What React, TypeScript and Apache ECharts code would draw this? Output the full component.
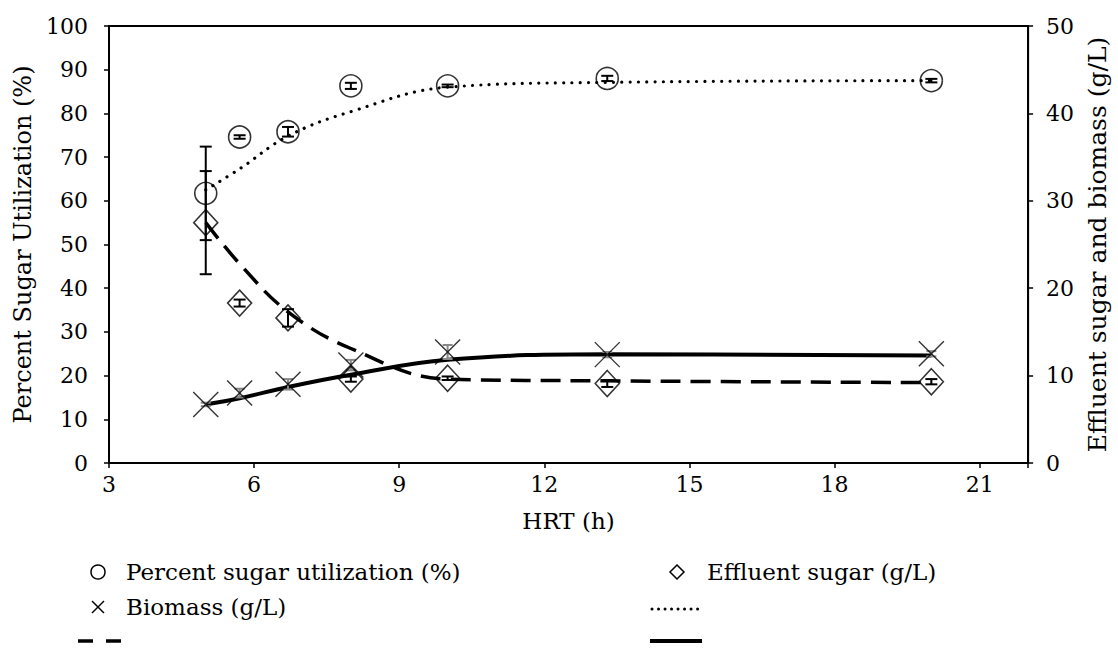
import React, { useEffect, useRef } from "react";
import * as echarts from "echarts";

// HRT (h)
const hrt = [5, 5.7, 6.7, 8, 10, 13.3, 20];
// Percent sugar utilization (%) – left axis
const sugarUtil = [61.7, 74.6, 75.8, 86.3, 86.3, 88.0, 87.5];
const sugarUtilErr = [10.7, 0.4, 1.1, 0.7, 0.3, 0.6, 0.4];
// Effluent sugar (g/L) – right axis
const effluentSugar = [27.5, 18.3, 16.6, 9.6, 9.7, 9.1, 9.3];
const effluentErr = [5.9, 0.4, 1.0, 0.3, 0.2, 0.4, 0.3];
// Biomass (g/L) – right axis
const biomass = [6.7, 8.0, 9.0, 11.2, 12.7, 12.4, 12.5];
const biomassErr = [0.2, 0.5, 0.6, 0.6, 0.8, 0.3, 0.3];
// Model fits
const fitUtil = [62.5, 67.3, 74.8, 80.4, 86.0, 87.1, 87.5];
const fitEffluent = [27.5, 22.8, 17.3, 13.1, 9.6, 9.4, 9.2];
const fitBiomass = [6.7, 7.4, 8.7, 10.1, 11.8, 12.45, 12.3];

const xTicks = { min: 3, max: 22, interval: 3 };
const leftTicks = { min: 0, max: 100, interval: 10 };
const rightTicks = { min: 0, max: 50, interval: 10 };

const legendLabels = [
  "Percent sugar utilization (%)",
  "Effluent sugar (g/L)",
  "Biomass (g/L)",
];

const FONT = "DejaVu Serif";

function pairs(xs: number[], ys: number[]) {
  return xs.map((x, i) => [x, ys[i]]);
}

function errData(xs: number[], ys: number[], es: number[]) {
  return xs.map((x, i) => [x, ys[i] - es[i], ys[i] + es[i]]);
}

function errRender(color: string, capW: number, lw: number) {
  return (params: any, api: any) => {
    const x = api.value(0);
    const lo = api.coord([x, api.value(1)]);
    const hi = api.coord([x, api.value(2)]);
    const c = capW / 2;
    const st = { stroke: color, lineWidth: lw };
    return {
      type: "group",
      children: [
        { type: "line", shape: { x1: lo[0], y1: lo[1], x2: hi[0], y2: hi[1] }, style: st },
        { type: "line", shape: { x1: lo[0] - c, y1: lo[1], x2: lo[0] + c, y2: lo[1] }, style: st },
        { type: "line", shape: { x1: hi[0] - c, y1: hi[1], x2: hi[0] + c, y2: hi[1] }, style: st },
      ],
    };
  };
}

const X_PATH = "path://M0,0L10,10M10,0L0,10";

export default function App() {
  const ref = useRef<HTMLDivElement>(null);
  useEffect(() => {
    document.body.style.margin = "0";
    if (!ref.current) return;
    const chart = echarts.init(ref.current, undefined, { renderer: "svg" });
    const tickText = { color: "#000", fontFamily: FONT, fontSize: 22 };
    const titleText = { color: "#000", fontFamily: FONT, fontSize: 23 };
    const legendText = (text: string, x: number, y: number) => ({
      type: "text",
      style: { text, x, y, fill: "#000", fontFamily: FONT, fontSize: 23, verticalAlign: "middle" },
    });
    const r1 = 572;
    const r2 = 607;
    const r3 = 641;
    const option: any = {
      animation: false,
      backgroundColor: "#fff",
      grid: {
        left: 109,
        top: 26,
        width: 923,
        height: 437,
        show: true,
        borderColor: "#000",
        borderWidth: 2,
        backgroundColor: "transparent",
      },
      xAxis: {
        type: "value",
        ...xTicks,
        name: "HRT (h)",
        nameLocation: "middle",
        nameGap: 46,
        nameTextStyle: { ...titleText },
        axisLine: { show: true, lineStyle: { color: "#000", width: 2 } },
        axisTick: { show: true, inside: false, length: 5, lineStyle: { color: "#000", width: 1.5 } },
        axisLabel: {
          ...tickText,
          margin: 10,
          formatter: (v: number) => (v % 3 === 0 ? String(v) : ""),
        },
        splitLine: { show: false },
      },
      yAxis: [
        {
          type: "value",
          ...leftTicks,
          position: "left",
          name: "Percent Sugar Utilization (%)",
          nameLocation: "middle",
          nameGap: 65,
          nameTextStyle: { ...titleText, fontSize: 24 },
          axisLine: { show: true, lineStyle: { color: "#000", width: 2 } },
          axisTick: { show: true, inside: false, length: 5, lineStyle: { color: "#000", width: 1.5 } },
          axisLabel: { ...tickText, margin: 21 },
          splitLine: { show: false },
        },
        {
          type: "value",
          ...rightTicks,
          position: "right",
          name: "Effluent sugar and biomass (g/L)",
          nameLocation: "middle",
          nameGap: 53,
          nameRotate: 90,
          nameTextStyle: { ...titleText, fontSize: 25 },
          axisLine: { show: true, lineStyle: { color: "#000", width: 2 } },
          axisTick: { show: true, inside: false, length: 5, lineStyle: { color: "#000", width: 1.5 } },
          axisLabel: { ...tickText, margin: 18 },
          splitLine: { show: false },
        },
      ],
      series: [
        {
          type: "line",
          name: "fitUtil",
          yAxisIndex: 0,
          data: pairs(hrt, fitUtil),
          smooth: 0.4,
          symbol: "none",
          lineStyle: { color: "#000", width: 3.2, type: [0.01, 8.3], cap: "round" },
          z: 2,
        },
        {
          type: "line",
          name: "fitEffluent",
          yAxisIndex: 1,
          data: pairs(hrt, fitEffluent),
          smooth: 0.4,
          symbol: "none",
          lineStyle: { color: "#000", width: 3.5, type: [20, 10] },
          z: 2,
        },
        {
          type: "line",
          name: "fitBiomass",
          yAxisIndex: 1,
          data: pairs(hrt, fitBiomass),
          smooth: 0.4,
          symbol: "none",
          lineStyle: { color: "#000", width: 4 },
          z: 2,
        },
        {
          type: "custom",
          yAxisIndex: 1,
          data: errData(hrt, biomass, biomassErr),
          renderItem: errRender("#888", 10, 2),
          z: 3,
        },
        {
          type: "custom",
          yAxisIndex: 0,
          data: errData(hrt, sugarUtil, sugarUtilErr),
          renderItem: errRender("#000", 12, 2),
          z: 3,
        },
        {
          type: "custom",
          yAxisIndex: 1,
          data: errData(hrt, effluentSugar, effluentErr),
          renderItem: errRender("#000", 12, 2),
          z: 3,
        },
        {
          type: "scatter",
          name: legendLabels[0],
          yAxisIndex: 0,
          data: pairs(hrt, sugarUtil),
          symbol: "circle",
          symbolSize: 22,
          itemStyle: { color: "transparent", borderColor: "#000", borderWidth: 1.6 },
          z: 4,
        },
        {
          type: "scatter",
          name: legendLabels[1],
          yAxisIndex: 1,
          data: pairs(hrt, effluentSugar),
          symbol: "diamond",
          symbolSize: [24, 26],
          itemStyle: { color: "transparent", borderColor: "#000", borderWidth: 1.6 },
          z: 4,
        },
        {
          type: "scatter",
          name: legendLabels[2],
          yAxisIndex: 1,
          data: pairs(hrt, biomass),
          symbol: X_PATH,
          symbolSize: 25,
          itemStyle: { color: "transparent", borderColor: "#000", borderWidth: 1.4 },
          z: 4,
        },
      ],
      graphic: [
        // Row 1
        { type: "circle", shape: { cx: 98, cy: r1, r: 7 }, style: { fill: "none", stroke: "#000", lineWidth: 1.5 } },
        legendText(legendLabels[0], 126, r1),
        {
          type: "polygon",
          shape: { points: [[677, r1 - 7], [684, r1], [677, r1 + 7], [670, r1]] },
          style: { fill: "none", stroke: "#000", lineWidth: 1.5 },
        },
        legendText(legendLabels[1], 707, r1),
        // Row 2
        { type: "line", shape: { x1: 92, y1: r2 - 6, x2: 104, y2: r2 + 6 }, style: { stroke: "#000", lineWidth: 1.5 } },
        { type: "line", shape: { x1: 104, y1: r2 - 6, x2: 92, y2: r2 + 6 }, style: { stroke: "#000", lineWidth: 1.5 } },
        legendText(legendLabels[2], 126, r2),
        {
          type: "line",
          shape: { x1: 652, y1: r2 + 2, x2: 701, y2: r2 + 2 },
          style: { stroke: "#000", lineWidth: 3, lineDash: [0.01, 6.5], lineCap: "round" },
        },
        // Row 3
        {
          type: "line",
          shape: { x1: 78, y1: r3, x2: 121, y2: r3 },
          style: { stroke: "#000", lineWidth: 3.5, lineDash: [15, 13] },
        },
        {
          type: "line",
          shape: { x1: 650, y1: r3, x2: 702, y2: r3 },
          style: { stroke: "#000", lineWidth: 4 },
        },
      ],
    };
    chart.setOption(option);
    return () => chart.dispose();
  }, []);
  return <div ref={ref} style={{ width: 1118, height: 650 }} />;
}
